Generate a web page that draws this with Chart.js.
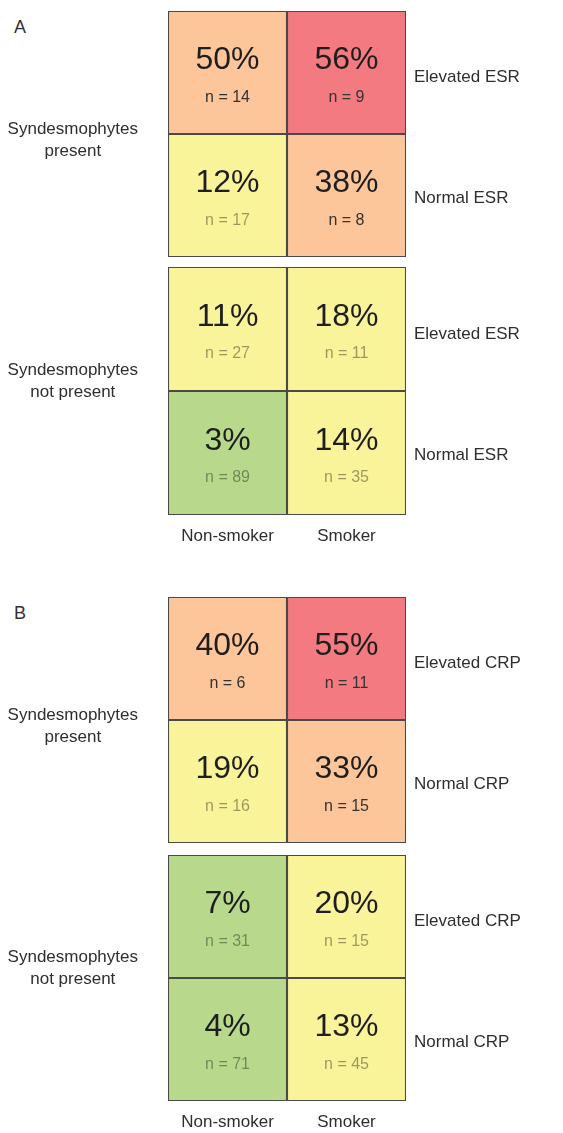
<!DOCTYPE html>
<html>
<head>
<meta charset="utf-8">
<script src="https://cdn.jsdelivr.net/npm/chart.js@4.4.1/dist/chart.umd.min.js"></script>
<style>
  html, body { margin: 0; padding: 0; background: #fff; overflow: hidden; }
  body { width: 563px; height: 1133px; position: relative; font-family: "Liberation Sans", Arial, sans-serif; }
  .box { position: absolute; left: 0; width: 563px; }
  .letter { position: absolute; left: 14px; font-size: 18px; line-height: 18px; color: #333; }
</style>
</head>
<body>
<div class="letter" style="top:18px">A</div>
<div class="box" style="top:11px;height:246px"><canvas id="esrPresent"></canvas></div>
<div class="box" style="top:267px;height:288px"><canvas id="esrAbsent"></canvas></div>
<div class="letter" style="top:604px">B</div>
<div class="box" style="top:597px;height:246px"><canvas id="crpPresent"></canvas></div>
<div class="box" style="top:855px;height:286px"><canvas id="crpAbsent"></canvas></div>

<script>
const columns = ["Non-smoker", "Smoker"];
const esrRows = ["Elevated ESR", "Normal ESR"];
const crpRows = ["Elevated CRP", "Normal CRP"];
const presentLabel = ["Syndesmophytes", "present"];
const absentLabel = ["Syndesmophytes", "not present"];

// [row][column], rows = elevated / normal, columns = non-smoker / smoker
const esrPresentPct = [[50, 56], [12, 38]];
const esrPresentN = [[14, 9], [17, 8]];
const esrAbsentPct = [[11, 18], [3, 14]];
const esrAbsentN = [[27, 11], [89, 35]];
const crpPresentPct = [[40, 55], [19, 33]];
const crpPresentN = [[6, 11], [16, 15]];
const crpAbsentPct = [[7, 20], [4, 13]];
const crpAbsentN = [[31, 15], [71, 45]];

const FONT = '"Liberation Sans", Arial, sans-serif';

function cellColor(p) {
  if (p < 10) return "#b8d98c";
  if (p < 30) return "#f9f39a";
  if (p <= 50) return "#fdc59a";
  return "#f27a80";
}

function nColor(p) {
  return p < 30 ? "rgba(0,0,0,0.38)" : "#333";
}

function cellTextPlugin(pct, n) {
  return {
    id: "cellText",
    afterDatasetsDraw(chart) {
      const ctx = chart.ctx;
      ctx.save();
      ctx.textAlign = "center";
      ctx.textBaseline = "middle";
      chart.data.datasets.forEach((ds, r) => {
        chart.getDatasetMeta(r).data.forEach((bar, c) => {
          const cy = (bar.y + bar.base) / 2;
          ctx.fillStyle = "#1e1e1e";
          ctx.font = `32px ${FONT}`;
          ctx.fillText(`${pct[r][c]}%`, bar.x, cy - 12);
          ctx.fillStyle = nColor(pct[r][c]);
          ctx.font = `16px ${FONT}`;
          ctx.fillText(`n = ${n[r][c]}`, bar.x, cy + 25);
        });
      });
      ctx.restore();
    },
  };
}

// groupPos: where the left label sits on the 0..2 row scale
function drawBlock(id, rows, groupLabel, groupPos, pct, n, showColumns) {
  const ctx = document.getElementById(id).getContext("2d");
  return new Chart(ctx, {
    type: "bar",
    data: {
      labels: columns,
      datasets: rows.map((row, r) => ({
        label: row,
        data: columns.map(() => 1),
        backgroundColor: pct[r].map(cellColor),
        borderColor: "#4a4a4a",
        borderWidth: 1.4,
        borderSkipped: false,
        barPercentage: 1,
        categoryPercentage: 1,
      })),
    },
    options: {
      responsive: true,
      maintainAspectRatio: false,
      animation: false,
      events: [],
      layout: { padding: 0 },
      plugins: { legend: { display: false }, tooltip: { enabled: false } },
      scales: {
        x: {
          stacked: true,
          display: showColumns,
          grid: { display: false, drawTicks: false },
          border: { display: false },
          ticks: { color: "#2e2e2e", font: { size: 17, family: FONT }, padding: 11 },
          afterFit: (scale) => {
            scale.height = showColumns ? 40 : 0;
            scale.paddingLeft = 0;
            scale.paddingRight = 0;
          },
        },
        y: {
          stacked: true,
          reverse: true,
          min: 0,
          max: 2,
          position: "left",
          grid: { display: false, drawTicks: false },
          border: { display: false },
          afterBuildTicks: (scale) => {
            scale.ticks = [{ value: groupPos }];
          },
          ticks: {
            color: "#2e2e2e",
            font: { size: 17, family: FONT, lineHeight: 1.3 },
            crossAlign: "center",
            padding: 30,
            callback: () => groupLabel,
          },
          afterFit: (scale) => {
            scale.width = 168;
            scale.paddingTop = 0;
            scale.paddingBottom = 0;
          },
        },
        y2: {
          reverse: true,
          min: 0,
          max: 2,
          position: "right",
          grid: { display: false, drawTicks: false },
          border: { display: false },
          afterBuildTicks: (scale) => {
            scale.ticks = [{ value: 0.54 }, { value: 1.52 }];
          },
          ticks: {
            color: "#2e2e2e",
            font: { size: 17, family: FONT },
            crossAlign: "near",
            padding: 8,
            callback: (value, index) => rows[index],
          },
          afterFit: (scale) => {
            scale.width = 157;
            scale.paddingTop = 0;
            scale.paddingBottom = 0;
          },
        },
      },
    },
    plugins: [cellTextPlugin(pct, n)],
  });
}

drawBlock("esrPresent", esrRows, presentLabel, 1.05, esrPresentPct, esrPresentN, false);
drawBlock("esrAbsent", esrRows, absentLabel, 0.92, esrAbsentPct, esrAbsentN, true);
drawBlock("crpPresent", crpRows, presentLabel, 1.05, crpPresentPct, crpPresentN, false);
drawBlock("crpAbsent", crpRows, absentLabel, 0.92, crpAbsentPct, crpAbsentN, true);
</script>
</body>
</html>
